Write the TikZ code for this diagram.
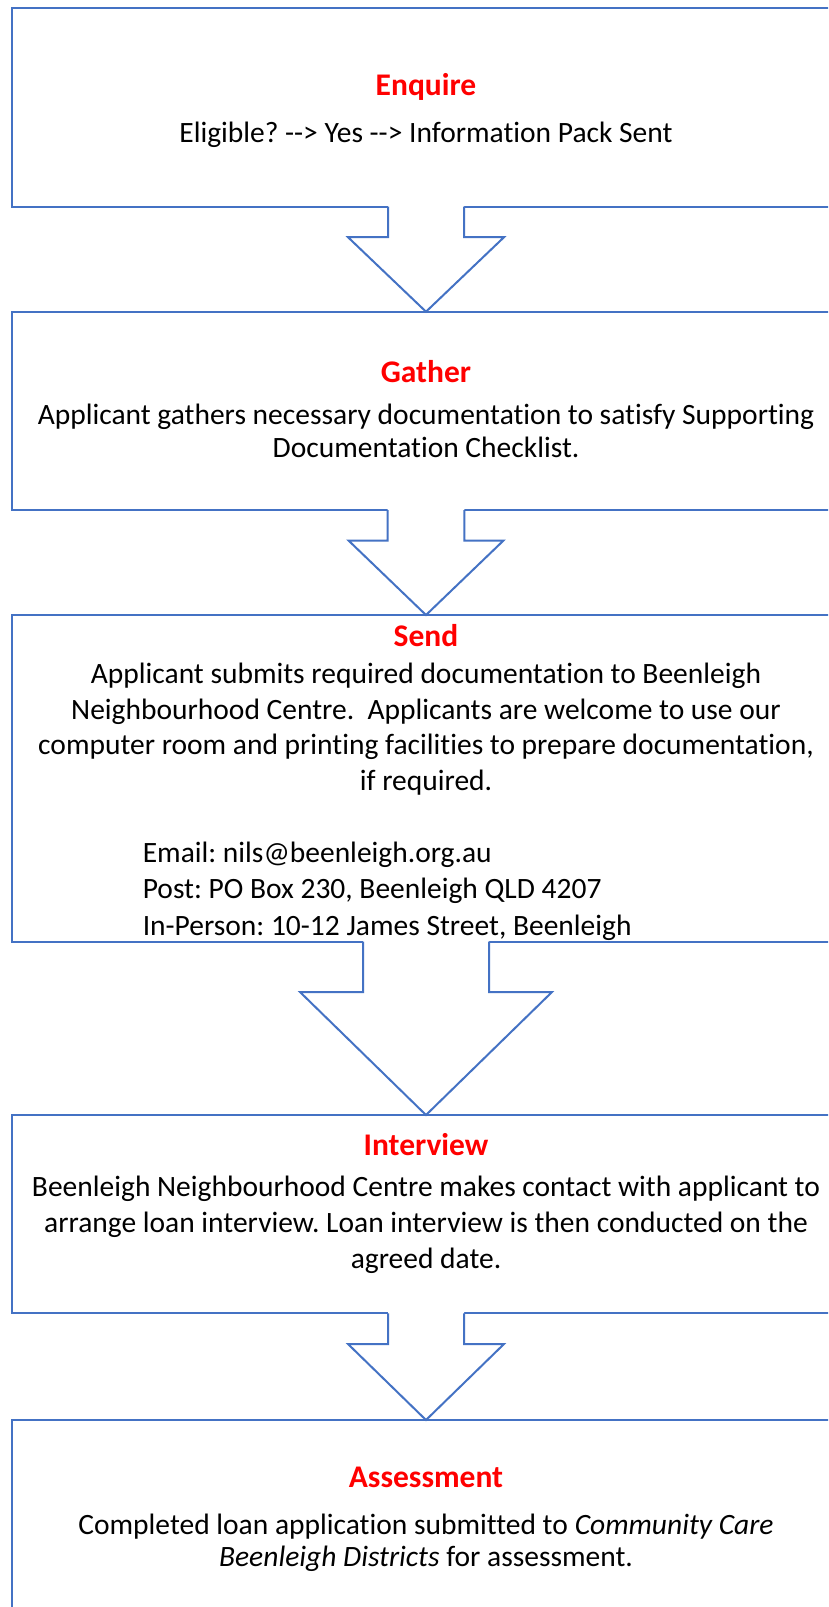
\documentclass[tikz,border=0pt]{standalone}
\usepackage{fontspec}
\setmainfont{Carlito}[Ligatures={NoCommon}]
\usetikzlibrary{calc}
\definecolor{boxblue}{HTML}{4472C4}
\definecolor{titlered}{HTML}{FF0000}
\frenchspacing
\newcommand\blockarr[5]{%
  \fill[white] ($(#1.south)+(-#3,-2)$) -- ($(#1.south)+(-#3,#5)$) -- ($(#1.south)+(-#4,#5)$) -- (#2.north) -- ($(#1.south)+(#4,#5)$) -- ($(#1.south)+(#3,#5)$) -- ($(#1.south)+(#3,-2)$) -- cycle;
  \draw[arrowline] ($(#1.south)+(-#3,0)$) -- ($(#1.south)+(-#3,#5)$) -- ($(#1.south)+(-#4,#5)$) -- (#2.north) -- ($(#1.south)+(#4,#5)$) -- ($(#1.south)+(#3,#5)$) -- ($(#1.south)+(#3,0)$);
}
\begin{document}
\begin{tikzpicture}[x=1pt,y=-1pt,
  stepbox/.style={draw=boxblue, line width=2pt, minimum width=828.6pt, minimum height=#1, inner sep=0pt, outer sep=0pt, anchor=north west, fill=white},
  arrowline/.style={draw=boxblue, line width=2pt},
  titletext/.style={text=titlered, font=\fontsize{31.5}{37}\selectfont\bfseries, inner sep=0pt},
  bodytext/.style={font=\fontsize{29.5}{#1}\selectfont, align=center, inner sep=0pt},
  bodytext/.default=35.7pt]
\useasboundingbox (0,0) rectangle (828,1607);
\clip (0,0) rectangle (828,1607);
\fill[white] (0,0) rectangle (828,1607);
% boxes
\node[stepbox=198.4pt] (b1) at (11.7,8.3) {};
\node[stepbox=198.3pt] (b2) at (11.7,311.7) {};
\node[stepbox=326.7pt] (b3) at (11.7,615) {};
\node[stepbox=198.3pt] (b4) at (11.7,1115) {};
\node[stepbox=260pt] (b5) at (11.7,1420) {};
% block arrows
\blockarr{b1}{b2}{38}{78}{30.5}
\blockarr{b2}{b3}{38.3}{77.5}{30.5}
\blockarr{b3}{b4}{63}{126}{50.3}
\blockarr{b4}{b5}{38}{78}{30.7}
% texts
\node[titletext] (t1) at (426,87) {Enquire};
\node[bodytext] (d1) at (426,135) {Eligible? -{}-> Yes -{}-> Information Pack Sent};
\node[titletext] (t2) at (426,372) {Gather};
\node[bodytext=33pt] (d2) at (426,431) {Applicant gathers necessary documentation to satisfy Supporting\\Documentation Checklist.};
\node[titletext] (t3) at (426,636) {Send};
\node[bodytext] (d3) at (426,729) {Applicant submits required documentation to Beenleigh\\Neighbourhood Centre.~ Applicants are welcome to use our\\computer room and printing facilities to prepare documentation,\\if required.};
\node[bodytext=36.5pt, align=left, anchor=west] (c3) at (142.6,891) {Email: nils@beenleigh.org.au\\Post: PO Box 230, Beenleigh QLD 4207\\In-Person: 10-12 James Street, Beenleigh};
\node[titletext] (t4) at (426,1145) {Interview};
\node[bodytext=36pt] (d4) at (426,1225) {Beenleigh Neighbourhood Centre makes contact with applicant to\\arrange loan interview. Loan interview is then conducted on the\\agreed date.};
\node[titletext] (t5) at (426,1477) {Assessment};
\node[bodytext=32pt] (d5) at (426,1543) {Completed loan application submitted to \textit{Community Care}\\\textit{Beenleigh Districts} for assessment.};
\end{tikzpicture}
\end{document}
